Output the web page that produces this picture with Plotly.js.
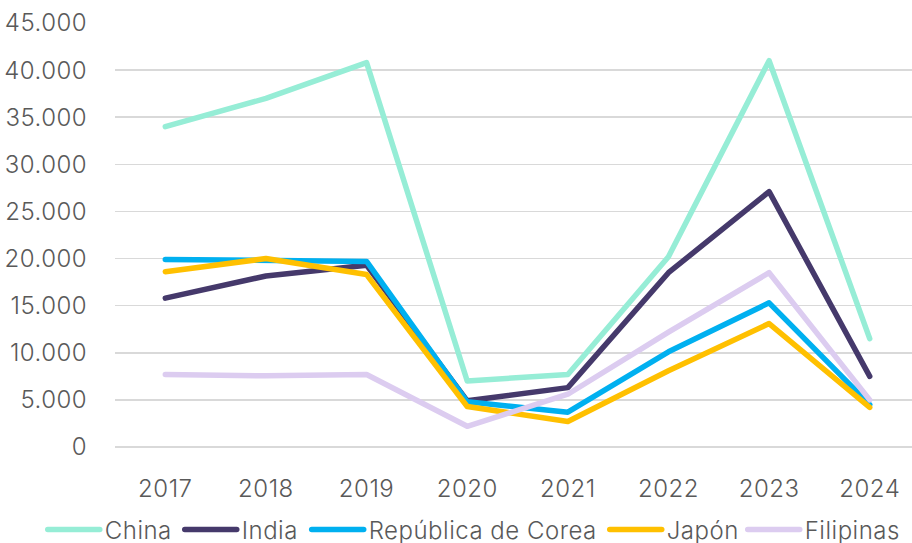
<!DOCTYPE html>
<html>
<head>
<meta charset="utf-8">
<script src="https://cdn.plot.ly/plotly-3.0.1.min.js"></script>
<style>
html,body{margin:0;padding:0;background:#fff;}
#chart{width:912px;height:543px;}
path.js-line{stroke-linecap:round !important;stroke-linejoin:round !important;}
.legendlines path{stroke-linecap:round !important;}
text{letter-spacing:0.5px;}
</style>
</head>
<body>
<div id="chart"></div>
<script>
const years = ['2017','2018','2019','2020','2021','2022','2023','2024'];
const china = [34000, 37000, 40800, 7000, 7700, 20200, 41000, 11500];
const india = [15800, 18150, 19300, 4900, 6300, 18500, 27100, 7500];
const corea = [19900, 19800, 19700, 4800, 3700, 10100, 15300, 4500];
const japon = [18600, 20000, 18300, 4300, 2700, 8100, 13100, 4200];
const filipinas = [7700, 7550, 7700, 2200, 5600, 12200, 18500, 5000];
const seriesNames = ['China', 'India', 'República de Corea', 'Japón', 'Filipinas'];
const seriesColors = ['#96EDD6', '#45396B', '#00B0F0', '#FFC000', '#DCCCF0'];
const seriesData = [china, india, corea, japon, filipinas];
const legendIds = ['legend', 'legend2', 'legend3', 'legend4', 'legend5'];
const legendX = [0.0469, 0.1971, 0.3363, 0.6631, 0.8144];

const traces = seriesData.map((d, i) => ({
  type: 'scatter', mode: 'lines', x: years, y: d, name: seriesNames[i],
  legend: legendIds[i],
  line: {color: seriesColors[i], width: 5.5, shape: 'linear'},
  hoverinfo: 'skip'
}));

const font = {family: 'Inter, sans-serif', size: 24, color: '#595959', weight: 300};
const layout = {
  width: 912, height: 543,
  margin: {l: 115, r: 0, t: 23, b: 96, pad: 0},
  paper_bgcolor: '#fff', plot_bgcolor: '#fff',
  separators: ',.',
  font: font,
  showlegend: true,
  xaxis: {type: 'category', range: [-0.5, 7.42], showgrid: false, zeroline: false,
          showline: false, ticks: 'outside', ticklen: 20, tickcolor: 'rgba(0,0,0,0)',
          tickfont: font, fixedrange: true},
  yaxis: {range: [0, 45000], dtick: 5000, tick0: 0, tickformat: ',d',
          showgrid: true, gridcolor: '#D9D9D9', gridwidth: 1.5,
          zeroline: true, zerolinecolor: '#D9D9D9', zerolinewidth: 1.5,
          showline: false, ticks: 'outside', ticklen: 22, tickcolor: 'rgba(0,0,0,0)',
          tickfont: font, fixedrange: true}
};
legendIds.forEach((id, i) => {
  layout[id] = {orientation: 'h', xref: 'container', yref: 'container',
                x: legendX[i], xanchor: 'left', y: 0.024, yanchor: 'middle',
                font: font, itemwidth: 52, bgcolor: 'rgba(0,0,0,0)'};
});

Plotly.newPlot('chart', traces, layout, {displayModeBar: false, staticPlot: true});
</script>
</body>
</html>
